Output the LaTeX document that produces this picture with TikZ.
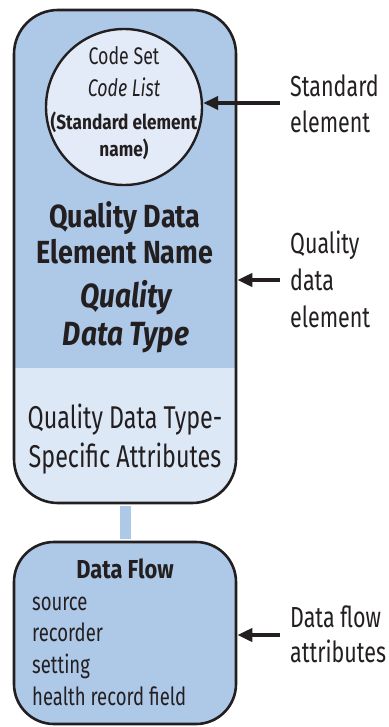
\documentclass[tikz,border=0pt]{standalone}
\usepackage{fontspec}
\usetikzlibrary{arrows.meta}
\setmainfont{Fira Sans}[FakeStretch=0.74,
  BoldFeatures={FakeStretch=0.84},
  BoldItalicFeatures={FakeStretch=0.84}]
\definecolor{boxblue}{HTML}{AEC8E8}
\definecolor{boxpale}{HTML}{DCE8F6}
\definecolor{circfill}{HTML}{E2EBF7}
\definecolor{ink}{HTML}{231F20}
\newcommand{\fs}[1]{\fontsize{#1}{#1}\selectfont}
\tikzset{
  x=1pt, y=-1pt,
  panel/.style={draw=ink, line width=2.6pt, rounded corners=44pt, rectangle,
    minimum width=222pt, inner sep=0pt},
  txt/.style={anchor=base, inner sep=0pt, text=ink},
  lbl/.style={anchor=base west, inner sep=0pt, text=ink, font=\fs{29}},
  pointer/.style={draw=ink, line width=4.2pt,
    -{Triangle[length=15pt,width=13pt]}},
}
\begin{document}
\begin{tikzpicture}
\useasboundingbox (0,0) rectangle (388,727);

% quality data element: blue upper part, pale attribute band below
\node[panel, fill=boxblue, minimum height=493pt,
  path picture={\fill[boxpale, sharp corners] (path picture bounding box.south west)
    rectangle ([yshift=135pt]path picture bounding box.south east);}]
  (qde) at (125,256.5) {};

% standard element circle
\node[circle, draw=ink, line width=2.4pt, fill=circfill, minimum size=156pt,
  inner sep=0pt] (std) at (124,107) {};
\node[txt, font=\fs{24}] (cs) at (124,65) {Code Set};
\node[txt, font=\fs{24}\itshape] (cl) at (124,97) {Code List};
\node[txt, font=\fs{20.5}\bfseries] (sen1) at (124,130) {(Standard element};
\node[txt, font=\fs{20.5}\bfseries] (sen2) at (124,157) {name)};

% element name and data type
\node[txt, font=\fs{32}\bfseries] (qn1) at (125,227) {Quality Data};
\node[txt, font=\fs{32}\bfseries] (qn2) at (125,263) {Element Name};
\node[txt, font=\fs{33.5}\bfseries\itshape] (qt1) at (126,307) {Quality};
\node[txt, font=\fs{33.5}\bfseries\itshape] (qt2) at (126,345) {Data Type};

% type-specific attributes
\node[txt, font=\fs{31.5}] (qa1) at (125,428) {Quality Data Type-};
\node[txt, font=\fs{31.5}] (qa2) at (125,467) {Specific Attributes};

% data flow box
\node[panel, fill=boxblue, minimum height=182pt, rounded corners=40pt]
  (df) at (125,633) {};
\draw[boxblue, line width=11pt, shorten <=1.3pt, shorten >=1.3pt]
  (qde.south) -- (df.north);
\node[txt, font=\fs{26}\bfseries] (dft) at (125,578) {Data Flow};
\node[lbl, font=\fs{25}] (d1) at (32,610) {source};
\node[lbl, font=\fs{25}] (d2) at (32,641) {recorder};
\node[lbl, font=\fs{25}] (d3) at (32,673) {setting};
\node[lbl, font=\fs{25}] (d4) at (32,705) {health record field};

% side labels and pointers
\node[lbl] (l1a) at (290,97) {Standard};
\node[lbl] (l1b) at (290,133) {element};
\node[lbl] (l2a) at (290,253) {Quality};
\node[lbl] (l2b) at (290,290) {data};
\node[lbl] (l2c) at (290,327) {element};
\node[lbl] (l3a) at (290,627) {Data flow};
\node[lbl] (l3b) at (290,662) {attributes};

\coordinate (p1) at (280,103);
\coordinate (p2) at (280,280);
\coordinate (p3) at (280,635);
\draw[pointer] (p1) -- (std.east |- p1);
\draw[pointer] (p2) -- (qde.east |- p2);
\draw[pointer] (p3) -- (df.east |- p3);
\end{tikzpicture}
\end{document}
